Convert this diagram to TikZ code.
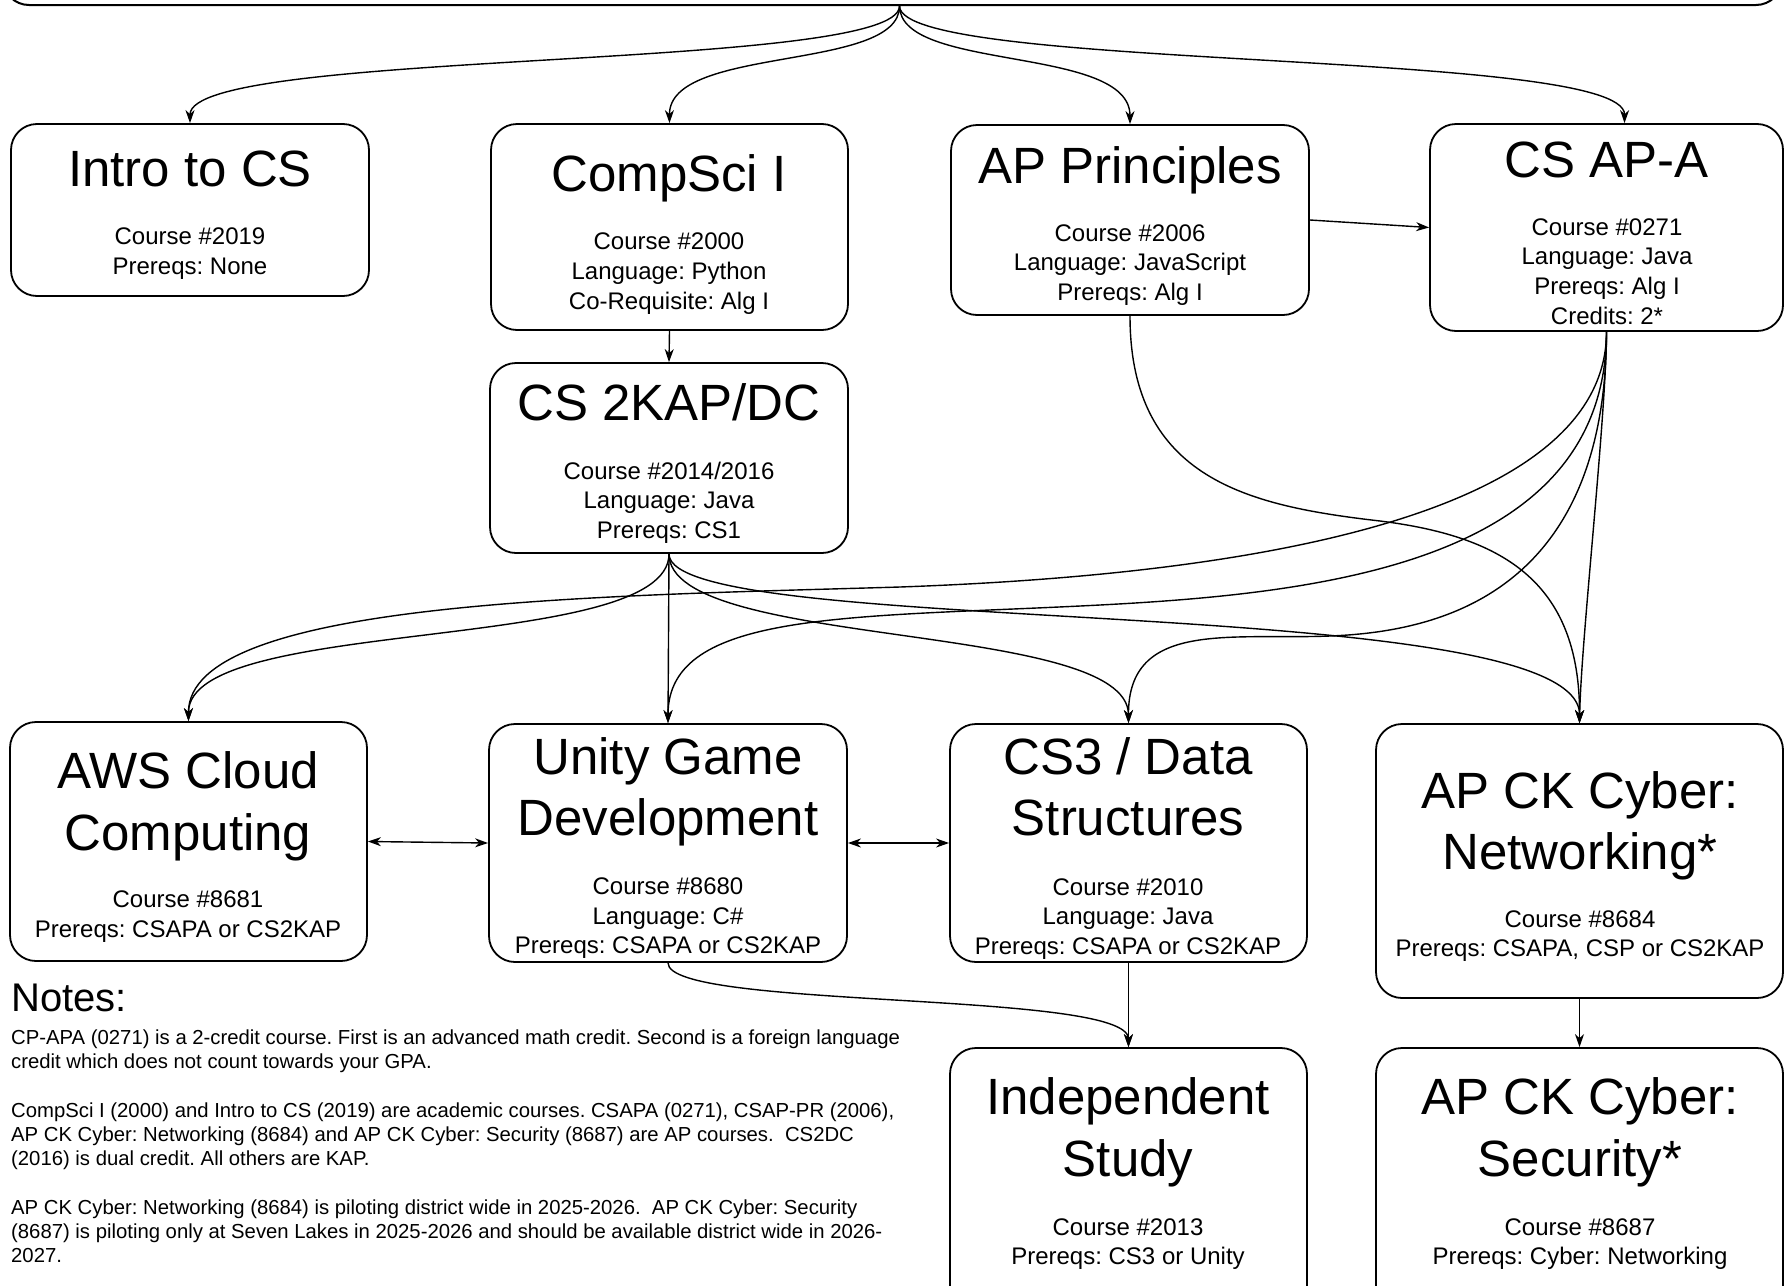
\documentclass[tikz,border=0pt]{standalone}
\usepackage{fontspec}
\setmainfont{Liberation Sans}
\usetikzlibrary{arrows.meta,fit}
\frenchspacing
\begin{document}
\begin{tikzpicture}[x=1pt,y=-1pt,
  cbox/.style={draw=black, line width=1.8pt, rounded corners=26pt, inner sep=0pt},
  ttl/.style={align=center, font=\fontsize{51}{61.5}\selectfont, inner sep=0pt},
  bdy/.style={align=center, font=\fontsize{24}{29.6}\selectfont, inner sep=0pt},
  nts/.style={align=left, font=\fontsize{20.3}{24.3}\selectfont, inner sep=0pt, anchor=north west},
  conn/.style={line width=1.4pt, -{Stealth[length=13pt,width=9pt,inset=4pt]}},
  biconn/.style={line width=1.4pt, {Stealth[length=13pt,width=9pt,inset=4pt]}-{Stealth[length=13pt,width=9pt,inset=4pt]}},
]
\useasboundingbox (0,0) rectangle (1785,1285);
\clip (0,0) rectangle (1785,1285);

% boxes
\node[cbox, line width=2pt, fit={(3,-60) (1782,5)}] (header) {};
\node[cbox, fit={(11,124) (369,296)}] (intro) {};
\node[cbox, fit={(491,124) (848,330)}] (compsci) {};
\node[cbox, fit={(951,125) (1309,315)}] (ap) {};
\node[cbox, fit={(1430,124) (1783,331)}] (csapa) {};
\node[cbox, fit={(490,363) (848,553)}] (cs2) {};
\node[cbox, fit={(10,722) (367,961)}] (aws) {};
\node[cbox, fit={(489,724) (847,962)}] (unity) {};
\node[cbox, fit={(950,724) (1307,962)}] (cs3) {};
\node[cbox, fit={(1376,724) (1783,998)}] (net) {};
\node[cbox, fit={(950,1048) (1307,1320)}] (indep) {};
\node[cbox, fit={(1376,1048) (1783,1320)}] (sec) {};

% texts
\node[ttl] (introT) at (190,174.5) {\strut Intro to CS};
\node[bdy] (introB) at (190,253.6) {\strut Course \#2019\\\strut Prereqs: None};

\node[ttl] (compsciT) at (669,179) {\strut CompSci I};
\node[bdy] (compsciB) at (669,273.5) {\strut Course \#2000\\\strut Language: Python\\\strut Co-Requisite: Alg I};

\node[ttl] (apT) at (1130,171) {\strut AP Principles};
\node[bdy] (apB) at (1130,265) {\strut Course \#2006\\\strut Language: JavaScript\\\strut Prereqs: Alg I};

\node[ttl] (csapaT) at (1607,165.4) {\strut CS AP-A};
\node[bdy] (csapaB) at (1607,273.8) {\strut Course \#0271\\\strut Language: Java\\\strut Prereqs: Alg I\\\strut Credits: 2*};

\node[ttl] (cs2T) at (669,408) {\strut CS 2KAP/DC};
\node[bdy] (cs2B) at (669,503) {\strut Course \#2014/2016\\\strut Language: Java\\\strut Prereqs: CS1};

\node[ttl] (awsT) at (188,807.4) {\strut AWS Cloud\\\strut Computing};
\node[bdy] (awsB) at (188,916.7) {\strut Course \#8681\\\strut Prereqs: CSAPA or CS2KAP};

\node[ttl] (unityT) at (668,792.6) {\strut Unity Game\\\strut Development};
\node[bdy] (unityB) at (668,918.4) {\strut Course \#8680\\\strut Language: C\#\\\strut Prereqs: CSAPA or CS2KAP};

\node[ttl] (cs3T) at (1128,792.6) {\strut CS3 / Data\\\strut Structures};
\node[bdy] (cs3B) at (1128,918.8) {\strut Course \#2010\\\strut Language: Java\\\strut Prereqs: CSAPA or CS2KAP};

\node[ttl] (netT) at (1580,826.8) {\strut AP CK Cyber:\\\strut Networking*};
\node[bdy] (netB) at (1580,936) {\strut Course \#8684\\\strut Prereqs: CSAPA, CSP or CS2KAP};

\node[ttl] (indepT) at (1128,1133) {\strut Independent\\\strut Study};
\node[bdy] (indepB) at (1128,1244) {\strut Course \#2013\\\strut Prereqs: CS3 or Unity};

\node[ttl] (secT) at (1580,1133) {\strut AP CK Cyber:\\\strut Security*};
\node[bdy] (secB) at (1580,1244) {\strut Course \#8687\\\strut Prereqs: Cyber: Networking};

% notes
\node[anchor=west, inner sep=0pt, font=\fontsize{40}{48}\selectfont] (notesT) at (11,998) {Notes:};
\node[nts] (notesB) at (11,1027) {\strut CP-APA (0271) is a 2-credit course. First is an advanced math credit. Second is a foreign language\\
credit which does not count towards your GPA.\\[24.3pt]
CompSci I (2000) and Intro to CS (2019) are academic courses. CSAPA (0271), CSAP-PR (2006),\\
AP CK Cyber: Networking (8684) and AP CK Cyber: Security (8687) are AP courses.\ \ CS2DC\\
(2016) is dual credit. All others are KAP.\\[24.3pt]
AP CK Cyber: Networking (8684) is piloting district wide in 2025-2026.\ \ AP CK Cyber: Security\\
(8687) is piloting only at Seven Lakes in 2025-2026 and should be available district wide in 2026-\\
2027.\strut};

% connectors from the top
\coordinate (root) at ([xshift=7pt]header.south);
\draw[conn] (root) .. controls (900,72) and (190,48) .. (intro.north);
\draw[conn] (root) .. controls (900,72) and (669,45) .. (compsci.north);
\draw[conn] (root) .. controls (900,72) and (1130,45) .. (ap.north);
\draw[conn] (root) .. controls (900,72) and (1625,48) .. ([xshift=18pt]csapa.north);

\draw[conn] (compsci.south) -- (cs2.north);
\draw[conn] (ap.east) -- (csapa.west);

% from CS 2KAP/DC
\draw[conn] (cs2.south) .. controls (669,655) and (188,615) .. (aws.north);
\draw[conn] (cs2.south) -- (unity.north);
\draw[conn] (cs2.south) .. controls (669,650) and (1128,620) .. (cs3.north);
\draw[conn] (cs2.south) .. controls (669,640) and (1580,590) .. (net.north);

% from CS AP-A
\draw[conn] (csapa.south) .. controls (1606,540) and (1150,578) .. (900,587) .. controls (600,596) and (188,600) .. (aws.north);
\draw[conn] (csapa.south) .. controls (1606,560) and (1330,593) .. (1100,605) .. controls (850,618) and (668,610) .. (unity.north);
\draw[conn] (csapa.south) .. controls (1606,600) and (1430,632) .. (1330,636) .. controls (1230,640) and (1128,620) .. (cs3.north);
\draw[conn] (csapa.south) .. controls (1606,420) and (1581,640) .. (net.north);

% from AP Principles
\draw[conn] (ap.south) .. controls (1130,480) and (1250,506) .. (1380,521) .. controls (1500,536) and (1580,580) .. (net.north);

% lower level
\draw[conn] (unity.south) .. controls (668,1010) and (1128,990) .. (indep.north);
\draw[conn] (cs3.south) -- (indep.north);
\draw[conn] (net.south) -- (sec.north);

\draw[biconn] (aws.east) -- (unity.west);
\draw[biconn] (unity.east) -- (cs3.west);
\end{tikzpicture}
\end{document}
